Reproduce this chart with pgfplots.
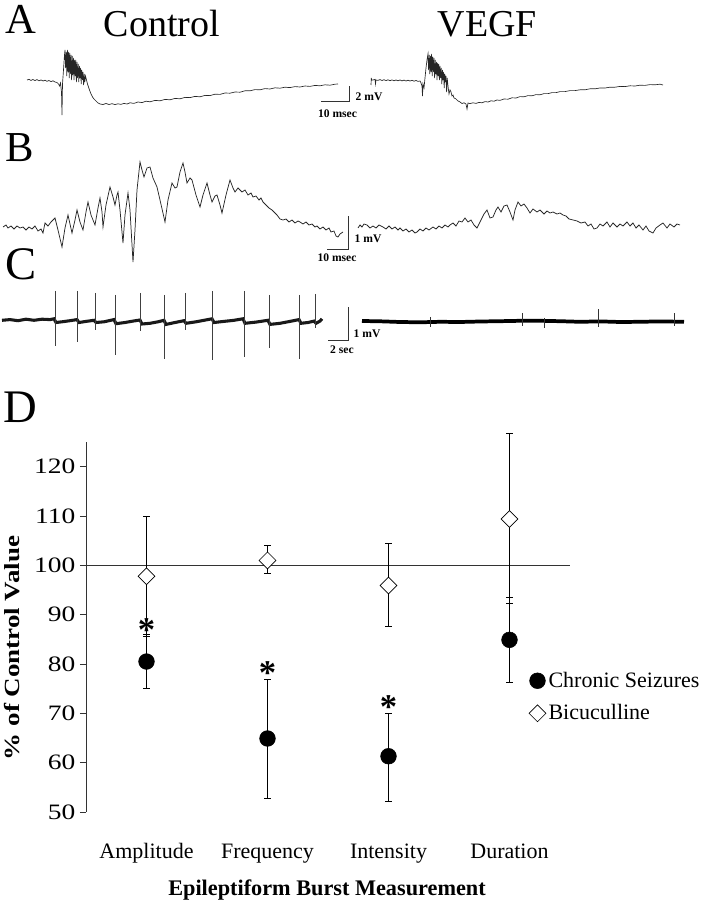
\documentclass[border=0pt]{standalone}
\usepackage{fontspec}
\setmainfont{Liberation Serif}
\newfontfamily\wideserif[FakeStretch=1.25]{Liberation Serif}
\usepackage{pgfplots}
\pgfplotsset{compat=1.18}
\begin{document}
\begin{tikzpicture}
\useasboundingbox (0,0) rectangle (527.25pt,675pt);
% ---------------- Panels A-C (pixel-based overlay axis) ----------------
\begin{axis}[at={(0,0)},anchor=south west,scale only axis,width=527.25pt,height=675pt,
  xmin=0,xmax=703,ymin=0,ymax=900,y dir=reverse,axis lines=none,clip=false,
  unbounded coords=jump]
% panel letters and titles
\node[anchor=base west,font=\fontsize{32}{34}\selectfont] at (axis cs:1,34) {A};
\node[anchor=base west,font=\fontsize{32}{34}\selectfont] at (axis cs:1,162) {B};
\node[anchor=base west,font=\fontsize{35}{38}\selectfont] at (axis cs:1,280) {C};
\node[anchor=base west,font=\fontsize{35}{38}\selectfont] at (axis cs:-1,422) {D};
\node[anchor=base,font=\fontsize{28.5}{30}\selectfont] at (axis cs:162,37) {Control};
\node[anchor=base,font=\fontsize{28.5}{30}\selectfont] at (axis cs:487.5,37) {VEGF};
% A control
\addplot[black!85,line width=0.5pt] coordinates {
(27,80)(29,79.3)(31,80.5)(33,79.5)(35,80.6)(37,79.6)(39,80.8)(41,80)(43,81)(45,80.2)(47,81.3)(49,80.5)(51,81.6)(53,80.8)(55,82)(57,82.5)(58.5,84)(59.5,86)(60.5,83)(61.5,92)(62,115)(62.5,84)(63.5,70)(64.5,55)(65,50)(65.6,68)(66.2,52)(66.8,76)(67.4,50)(68,72)(68.6,52)(69.2,78)(69.8,53)(70.4,74)(71,55)(71.6,80)(72.2,56)(72.8,75)(73.4,58)(74,80)(74.6,60)(75.2,76)(75.8,60)(76.4,82)(77,62)(77.6,78)(78.2,64)(78.8,82)(79.4,66)(80,78)(80.6,68)(81.2,84)(81.8,70)(82.4,80)(83,72)(83.6,85)(84.2,74)(84.8,82)(85.5,76)(86.5,80)(87.5,84)(88.5,87)(89.5,90)(91,94)(92.5,97)(94,99)(96,101)(98,103)(100,104)(103,104.5)(106,103.5)(109,104.5)(112,103.7)(115,104.6)(118,103.8)(121,104.4)(124,103.4)(127,104)(130,102.8)(134,103.4)(138,102)(142,102.6)(146,101.2)(150,101.8)(155,100.4)(160,100.8)(165,99.4)(170,99.8)(175,98.4)(180,98.8)(185,97.4)(190,97.6)(195,96.4)(200,96.8)(205,95.4)(210,95.6)(215,94.2)(220,94.4)(225,93)(230,93.2)(235,92)(240,92.2)(245,90.8)(250,90.8)(255,89.6)(260,89.8)(265,88.6)(270,89)(275,87.8)(280,88.2)(285,87.2)(290,87.6)(295,86.6)(300,87)(305,86)(310,86.4)(315,85.4)(320,85.8)(325,84.8)(330,85.2)(335,84.2)(338,84)};
% A VEGF
\addplot[black!85,line width=0.5pt] coordinates {
(371,85)(371.3,78)(371.6,80)(373,80)(375,79.4)(375.5,84)(376,80)(378,80.4)(380,79.6)(382,80.5)(384,79.7)(386,80.6)(388,79.8)(390,80.7)(392,79.9)(394,80.8)(396,80)(398,80.8)(400,80)(402,80.9)(404,80.1)(406,81)(408,80.2)(410,81)(412,80.3)(414,81.2)(416,80.5)(418,81.4)(420,81)(421,83)(422,86)(422.5,96)(423,84)(424,88)(425,78)(426,68)(427,60)(428,54)(428.6,70)(429.2,55)(429.8,74)(430.4,56)(431,72)(431.6,54)(432.2,76)(432.8,57)(433.4,72)(434,58)(434.6,78)(435.2,60)(435.8,74)(436.4,62)(437,80)(437.6,63)(438.2,76)(438.8,64)(439.4,80)(440,66)(440.6,78)(441.2,68)(441.8,84)(442.4,70)(443,80)(443.6,72)(444.2,88)(444.8,74)(445.4,82)(446,76)(446.6,92)(447.2,78)(448,86)(449,94)(450,90)(451,92)(452,96)(453,95)(454,98)(456,99)(458,101)(460,102)(462,103.5)(464,102.8)(466,104)(467,109)(468,103)(470,103.6)(473,102.8)(476,103.4)(479,102.4)(482,102.8)(485,101.6)(488,102)(491,100.8)(494,101.2)(497,100)(500,100.4)(504,99)(508,99.2)(512,97.8)(516,98)(520,96.6)(524,96.8)(528,95.6)(532,95.8)(536,94.6)(540,94.8)(544,93.6)(548,93.6)(552,92.6)(556,92.6)(560,91.6)(565,91.6)(570,90.6)(575,90.6)(580,89.8)(585,89.8)(590,88.8)(595,88.8)(600,88)(605,88)(610,87.2)(615,87.2)(620,86.4)(625,86.6)(630,85.8)(635,86)(640,85.2)(645,85.4)(650,84.6)(655,84.8)(660,84.2)(663,85)};
% A scale bar
\addplot[black!80,line width=0.6pt] coordinates {(321,101)(349,101)(349,86)};
\node[anchor=west,font=\bfseries\fontsize{8.7}{10}\selectfont] at (axis cs:351,97) {2 mV};
\node[anchor=center,font=\bfseries\fontsize{8.7}{10}\selectfont] at (axis cs:337.5,114) {10 msec};
% B control
\addplot[black!85,line width=0.55pt] coordinates {
(3,227)(6,225)(8,228)(11,226)(14,229)(17,226)(20,228)(23,227)(26,230)(29,227)(32,229)(35,226)(38,231)(41,229)(43,233)(45,223)(48,226)(51,222)(55,218)(58,230)(62,247)(65,228)(68,215)(70,224)(72,233)(75,220)(77,210)(80,222)(83,230)(86,212)(88,202)(91,215)(95,225)(98,208)(100,198)(102,212)(103,227)(106,205)(110,187)(113,197)(115,205)(117,195)(118,192)(120,210)(123,243)(125,215)(128,193)(130,210)(133,262)(135,230)(137,190)(140,162)(142,170)(144,177)(147,168)(150,167)(153,178)(157,187)(160,200)(165,222)(168,200)(172,183)(175,188)(177,187)(180,172)(183,163)(185,172)(187,183)(190,178)(192,180)(196,195)(200,207)(203,195)(207,183)(210,195)(212,202)(215,196)(217,195)(220,205)(222,213)(226,195)(230,180)(233,188)(235,192)(238,188)(242,192)(245,190)(248,195)(251,193)(253,197)(256,196)(259,200)(261,198)(263,202)(266,205)(269,208)(272,210)(275,213)(277,215)(280,219)(283,220)(286,219)(289,222)(292,220)(295,223)(298,221)(300,222)(303,224)(306,222)(309,225)(312,224)(315,227)(317,226)(320,229)(323,227)(326,230)(329,228)(331,232)(334,231)(336,236)(338,237)(340,234)(343,232)};
% B VEGF
\addplot[black!85,line width=0.55pt] coordinates {
(358,228)(360,225)(362,227)(364,224)(367,225)(370,228)(373,226)(376,228)(379,225)(383,227)(386,229)(389,226)(392,229)(395,227)(398,230)(400,228)(403,231)(406,229)(409,232)(412,230)(415,233)(417,232)(420,229)(423,231)(426,228)(429,230)(433,227)(436,229)(439,226)(442,228)(445,225)(448,227)(450,225)(453,223)(456,226)(459,221)(462,222)(465,218)(468,222)(471,220)(474,225)(477,228)(480,222)(484,214)(487,210)(490,218)(493,217)(496,210)(498,207)(501,212)(504,206)(507,205)(510,212)(513,220)(515,210)(518,202)(521,206)(524,204)(527,208)(530,213)(533,209)(537,212)(540,210)(544,214)(547,211)(550,213)(553,212)(557,214)(560,213)(563,215)(566,216)(569,219)(573,220)(577,221)(581,223)(585,222)(588,226)(591,224)(594,229)(597,228)(600,224)(603,226)(607,222)(610,227)(613,223)(617,227)(620,224)(623,226)(627,222)(630,226)(633,223)(636,228)(639,225)(643,230)(646,226)(649,231)(653,233)(656,228)(660,225)(663,223)(667,228)(670,224)(674,227)(677,224)(680,225)};
% B scale bar
\addplot[black!80,line width=0.6pt] coordinates {(327,249)(348,249)(348,216)};
\node[anchor=west,font=\bfseries\fontsize{8.7}{10}\selectfont] at (axis cs:350,239) {1 mV};
\node[anchor=center,font=\bfseries\fontsize{8.7}{10}\selectfont] at (axis cs:337,258) {10 msec};
% C control baseline (thick noisy band)
\addplot[black!90,line width=2.3pt] coordinates {
(2,320.3)(10,319.6)(18,320.7)(26,319.2)(34,320.3)(42,319.2)(50,319.6)(54,318.8)(56,322.5)(62,321.8)(70,320.7)(77,319.6)(79,322.5)(86,321.4)(94,320.3)(96,322.5)(104,321.8)(114,319.6)(116,323.7)(125,322.5)(133,321.1)(140,320)(142,324)(150,323.3)(158,321.8)(164,320.3)(166,324.4)(175,322.5)(184,320.7)(186,323.3)(196,321.8)(204,320.3)(212,318.8)(214,322.5)(224,321.4)(234,320.3)(243,318.8)(245,323.3)(256,322.1)(268,320.3)(270,324.4)(280,323.3)(290,321.4)(299,319.6)(301,323.3)(308,322.5)(314,321.1)(316,323.3)(320,321.1)(322,318.8)};
% C control spikes
\addplot[black!75,line width=0.45pt] table {
x y
55 291
55 346
nan nan
77.5 291
77.5 342
nan nan
95 293
95 330
nan nan
115 295
115 355
nan nan
140.5 293
140.5 331
nan nan
164 295
164 359
nan nan
185 293
185 330
nan nan
212.5 291
212.5 360
nan nan
244 291
244 357
nan nan
269 295
269 348
nan nan
299.5 295
299.5 359
nan nan
315 294
315 328
};
% C VEGF baseline
\addplot[black,line width=2.8pt] coordinates {
(362,321)(380,321.3)(400,322)(420,322.3)(440,321.8)(460,322)(480,321.5)(500,321.2)(520,320.8)(540,320.8)(560,321.2)(580,321.8)(600,321.4)(620,322)(640,321.8)(660,321.4)(684,321.8)};
\addplot[black!80,line width=0.45pt] table {
x y
430 317
430 327
nan nan
522.5 313
522.5 326
nan nan
544 318
544 328
nan nan
598 309.5
598 327
nan nan
674 313.5
674 326
};
% C scale bar
\addplot[black!80,line width=0.6pt] coordinates {(328,340.7)(348,340.7)(348,307.3)};
\node[anchor=west,font=\bfseries\fontsize{8.7}{10}\selectfont] at (axis cs:349,333.3) {1 mV};
\node[anchor=center,font=\bfseries\fontsize{8.7}{10}\selectfont] at (axis cs:342,350) {2 sec};
\end{axis}
% ---------------- Panel D ----------------
\begin{axis}[at={(64.5pt,66pt)},anchor=south west,scale only axis,
  width=363pt,height=277.5pt,
  xmin=-0.5,xmax=3.5,ymin=50,ymax=125,
  axis lines=left,axis line style={-,line width=0.6pt,black!80},
  x axis line style={draw=none},
  xtick={0,1,2,3},
  xticklabels={Amplitude,Frequency,Intensity,Duration},
  xtick style={draw=none},
  xticklabel style={font=\fontsize{16.5}{18}\selectfont,text height=11.5pt,text depth=3.5pt,yshift=-15pt},
  ytick={50,60,...,120},
  tick align=outside,major tick length=4.5pt,
  ytick style={line width=0.6pt,black!80},
  yticklabel style={font=\wideserif\fontsize{16.5}{18}\selectfont},
  /pgf/number format/assume math mode=true,
  xlabel={Epileptiform Burst Measurement},
  xlabel style={font=\bfseries\fontsize{16.7}{20}\selectfont,at={(axis description cs:0.498,-0.21)},anchor=center},
  ylabel={\% of Control Value},
  ylabel style={font=\wideserif\bfseries\fontsize{16.2}{18}\selectfont,at={(axis description cs:-0.153,0.443)},anchor=center},
  clip=false,
  legend style={draw=none,fill=none,at={(axis description cs:0.915,0.386)},anchor=north west,
    font=\fontsize{16.5}{19}\selectfont,row sep=7.5pt,inner sep=0pt},
  legend cell align=left,
  legend image code/.code={\draw[mark repeat=2,mark phase=2,#1] plot coordinates {(0pt,0pt)(7pt,0pt)(13pt,0pt)};},
]
\addplot[black!80,line width=0.6pt,forget plot] coordinates {(-0.5,100)(3.5,100)};
\addplot[black,only marks,mark=*,mark size=5.9pt,
  error bars/.cd,y dir=both,y explicit,error mark=|,
  error mark options={black,mark size=2.6pt,line width=0.6pt},
  error bar style={black,line width=0.6pt}]
  table[x=x,y=y,y error plus=ep,y error minus=em] {
x y ep em
0 80.5 5.5 5.5
1 64.9 11.9 12.1
2 61.3 8.6 9.1
3 84.9 8.6 8.6
};
\addlegendentry{Chronic Seizures}
\addplot[black,only marks,mark=square*,mark size=4.45pt,
  mark options={rotate=45,fill=white,draw=black,line width=0.5pt},
  error bars/.cd,y dir=both,y explicit,error mark=|,
  error mark options={black,mark size=2.6pt,line width=0.6pt},
  error bar style={black,line width=0.6pt}]
  table[x=x,y=y,y error plus=ep,y error minus=em] {
x y ep em
0 97.8 12.2 12.2
1 101.0 3.1 2.7
2 95.9 8.6 8.3
3 109.4 17.3 17.2
};
\addlegendentry{Bicuculline}
\node[font=\bfseries\fontsize{26}{28}\selectfont,yshift=-4pt] at (axis cs:0,88.0) {*};
\node[font=\bfseries\fontsize{26}{28}\selectfont,yshift=-4pt] at (axis cs:1,79.25) {*};
\node[font=\bfseries\fontsize{26}{28}\selectfont,yshift=-4pt] at (axis cs:2,72.45) {*};
\end{axis}
\end{tikzpicture}
\end{document}
